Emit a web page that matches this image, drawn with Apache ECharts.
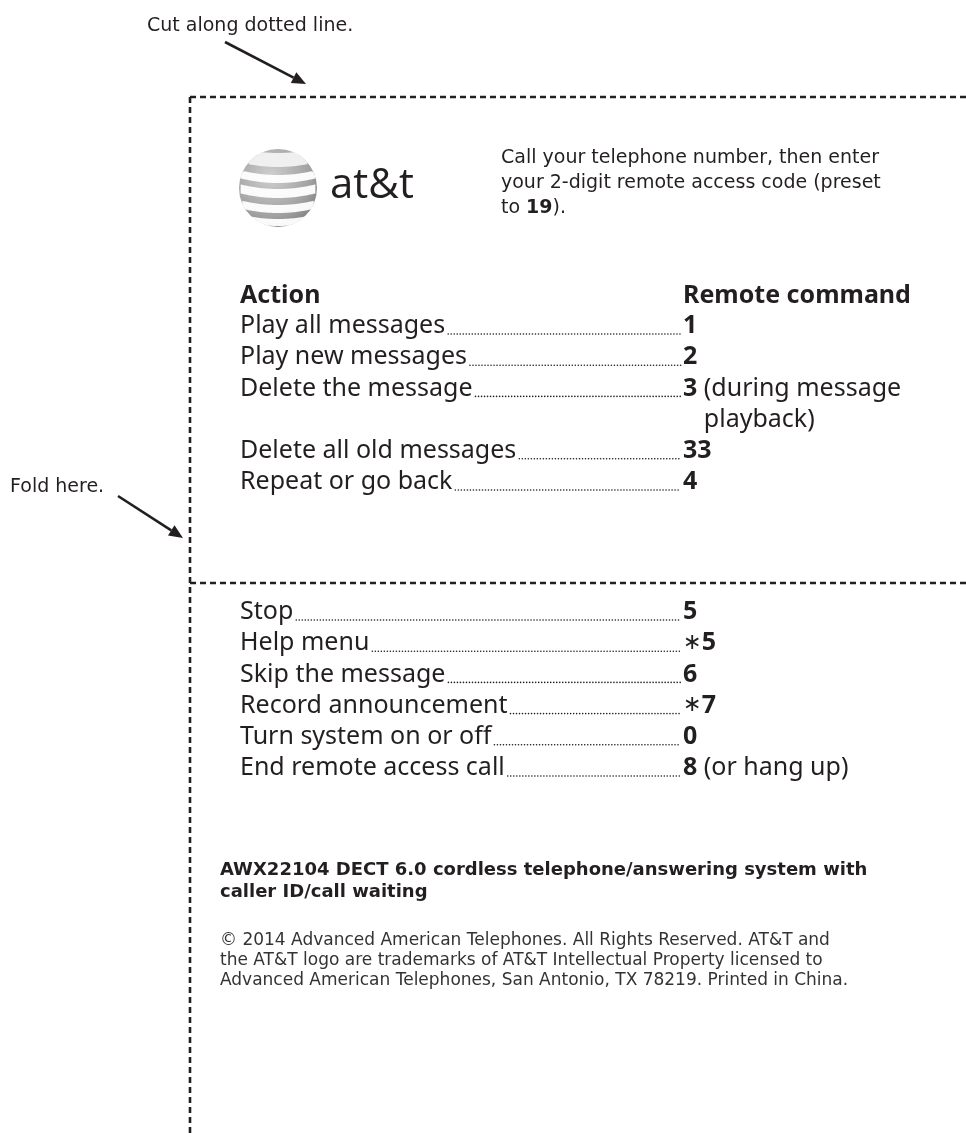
<!DOCTYPE html>
<html><head><meta charset="utf-8">
<script src="https://cdn.jsdelivr.net/npm/echarts@6/dist/echarts.min.js"></script>
<style>html,body{margin:0;padding:0;background:#fff}#c{width:966px;height:1133px}</style>
</head><body><div id="c"></div><script>
// ---- content ----
const cutLabel = 'Cut along dotted line.';
const foldLabel = 'Fold here.';
const logoText = 'at&t';
const introLines = ['Call your telephone number, then enter', 'your 2-digit remote access code (preset', 'to {b|19}).'];
const headers = ['Action', 'Remote command'];
const actionsTop = ['Play all messages', 'Play new messages', 'Delete the message', 'Delete all old messages', 'Repeat or go back'];
const commandsTop = ['1', '2', '3', '33', '4'];
const notesTop = [[], [], ['(during message', 'playback)'], [], []];
const actionsBottom = ['Stop', 'Help menu', 'Skip the message', 'Record announcement', 'Turn system on or off', 'End remote access call'];
const commandsBottom = ['5', '\u22175', '6', '\u22177', '0', '8'];
const notesBottom = [[], [], [], [], [], ['(or hang up)']];
const footerBold = ['AWX22104 DECT 6.0 cordless telephone/answering system with', 'caller ID/call waiting'];
const footerLines = ['\u00a9 2014 Advanced American Telephones. All Rights Reserved. AT&T and', 'the AT&T logo are trademarks of AT&T Intellectual Property licensed to', 'Advanced American Telephones, San Antonio, TX 78219. Printed in China.'];

// ---- layout ----
const INK = '#231f20';
const SMALL = 'DejaVu Sans';
const ROW = 'Noto Sans';
const rowSize = 25;
const cmdX = 683, actX = 240, rowStep = 31.2;
const ctx = document.createElement('canvas').getContext('2d');
function tw(t, font) { ctx.font = font; return ctx.measureText(t).width; }

const els = [];
let z = 1;
function text(x, y, t, opt) {
  opt = opt || {};
  const fs = opt.size || 15, ff = opt.family || SMALL, fw = opt.weight || 'normal';
  els.push({ type: 'text', x: x, y: y, z: z++, silent: true,
    style: { text: t, fontSize: fs, fontFamily: ff, fontWeight: fw, fill: opt.color || INK,
      align: 'left', verticalAlign: 'middle',
      rich: { b: { fontSize: fs, fontFamily: ff, fontWeight: 'bold', fill: opt.color || INK },
              s: { fontSize: fs * 0.9, fontFamily: 'DejaVu Sans', fontWeight: 'normal', fill: opt.color || INK } } } });
}
function dashLine(x1, y1, x2, y2) {
  els.push({ type: 'line', z: z++, silent: true, shape: { x1, y1, x2, y2 },
    style: { stroke: INK, lineWidth: 2.6, lineDash: [6, 4] } });
}
function arrow(x1, y1, x2, y2) {
  const ang = Math.atan2(y2 - y1, x2 - x1), L = 14, W = 6;
  const bx = x2 - L * Math.cos(ang), by = y2 - L * Math.sin(ang);
  els.push({ type: 'line', z: z++, silent: true, shape: { x1, y1, x2: bx, y2: by }, style: { stroke: INK, lineWidth: 2.6 } });
  els.push({ type: 'polygon', z: z++, silent: true, shape: { points: [[x2, y2],
    [bx + W * Math.sin(ang), by - W * Math.cos(ang)], [bx - W * Math.sin(ang), by + W * Math.cos(ang)]] }, style: { fill: INK } });
}
function dots(x1, x2, y) {
  els.push({ type: 'line', z: z++, silent: true, shape: { x1, y1: y, x2, y2: y },
    style: { stroke: INK, lineWidth: 1.6, lineDash: [0.01, 3], lineCap: 'round' } });
}

// frame
dashLine(190, 97, 966, 97);
dashLine(190, 97, 190, 1133);
dashLine(190, 583, 966, 583);
text(147, 26, cutLabel, { size: 19 });
arrow(225, 42, 306, 84);
text(10, 487, foldLabel, { size: 19 });
arrow(118, 496, 183, 538);

// logo globe
const gcx = 278, gcy = 188, gr = 39;
els.push({ type: 'circle', z: z++, silent: true, shape: { cx: gcx, cy: gcy, r: gr },
  style: { fill: new echarts.graphic.RadialGradient(0.4, 0.35, 0.75, [{ offset: 0, color: '#cfcfcf' }, { offset: 0.7, color: '#a0a0a0' }, { offset: 1, color: '#7a7a7a' }]) } });
const bands = [[-40, -26], [-18, -10], [-4, 5], [12, 20], [26, 33]];
bands.forEach(function (b, i) {
  const top = [], bot = [];
  for (let k = 0; k <= 48; k++) {
    const x = gcx - gr + (2 * gr) * k / 48, dx = (x - gcx) / gr;
    const half = Math.sqrt(Math.max(0, gr * gr - (x - gcx) * (x - gcx)));
    const bow = 5 * (1 - dx * dx);
    let y1 = gcy + b[0] + bow, y2 = gcy + b[1] + bow;
    y1 = Math.max(y1, gcy - half); y2 = Math.min(y2, gcy + half);
    if (y2 > y1) { top.push([x, y1]); bot.unshift([x, y2]); }
  }
  if (top.length > 1) els.push({ type: 'polygon', z: z++, silent: true, shape: { points: top.concat(bot) },
    style: { fill: i === 0 ? '#f2f2f2' : '#ffffff', opacity: 0.95 } });
});
text(330, 186, logoText, { size: 42, family: 'Open Sans' });

// intro paragraph
introLines.forEach(function (l, i) { text(501, 158 + 25 * i, l, { size: 19 }); });

// headers
text(actX, 296, headers[0], { size: rowSize, family: ROW, weight: 'bold' });
text(cmdX, 296, headers[1], { size: rowSize, family: ROW, weight: 'bold' });

function cmdRich(c) {
  if (c.charAt(0) === '\u2217') return '{s|\u2217}{b|' + c.slice(1) + '}';
  return '{b|' + c + '}';
}
function rows(actions, commands, notes, y0) {
  let y = y0;
  actions.forEach(function (a, i) {
    const font = rowSize + 'px "' + ROW + '"';
    text(actX, y, a, { size: rowSize, family: ROW });
    const w = tw(a, font);
    dots(actX + w + 3, cmdX - 2, y + 8);
    const n = notes[i];
    text(cmdX, y, cmdRich(commands[i]) + (n.length ? ' ' + n[0] : ''), { size: rowSize, family: ROW });
    const indent = tw(commands[i] + ' ', 'bold ' + font);
    for (let j = 1; j < n.length; j++) { y += rowStep; text(cmdX + indent, y, n[j], { size: rowSize, family: ROW }); }
    y += rowStep;
  });
}
rows(actionsTop, commandsTop, notesTop, 326);
rows(actionsBottom, commandsBottom, notesBottom, 612);

footerBold.forEach(function (l, i) { text(220, 870 + 22 * i, l, { size: 18, weight: 'bold' }); });
footerLines.forEach(function (l, i) { text(220, 941 + 20 * i, l, { size: 17, color: '#333' }); });

const chart = echarts.init(document.getElementById('c'), null, { renderer: 'canvas' });
chart.setOption({ backgroundColor: '#ffffff', animation: false, graphic: { elements: els } });
</script></body></html>
